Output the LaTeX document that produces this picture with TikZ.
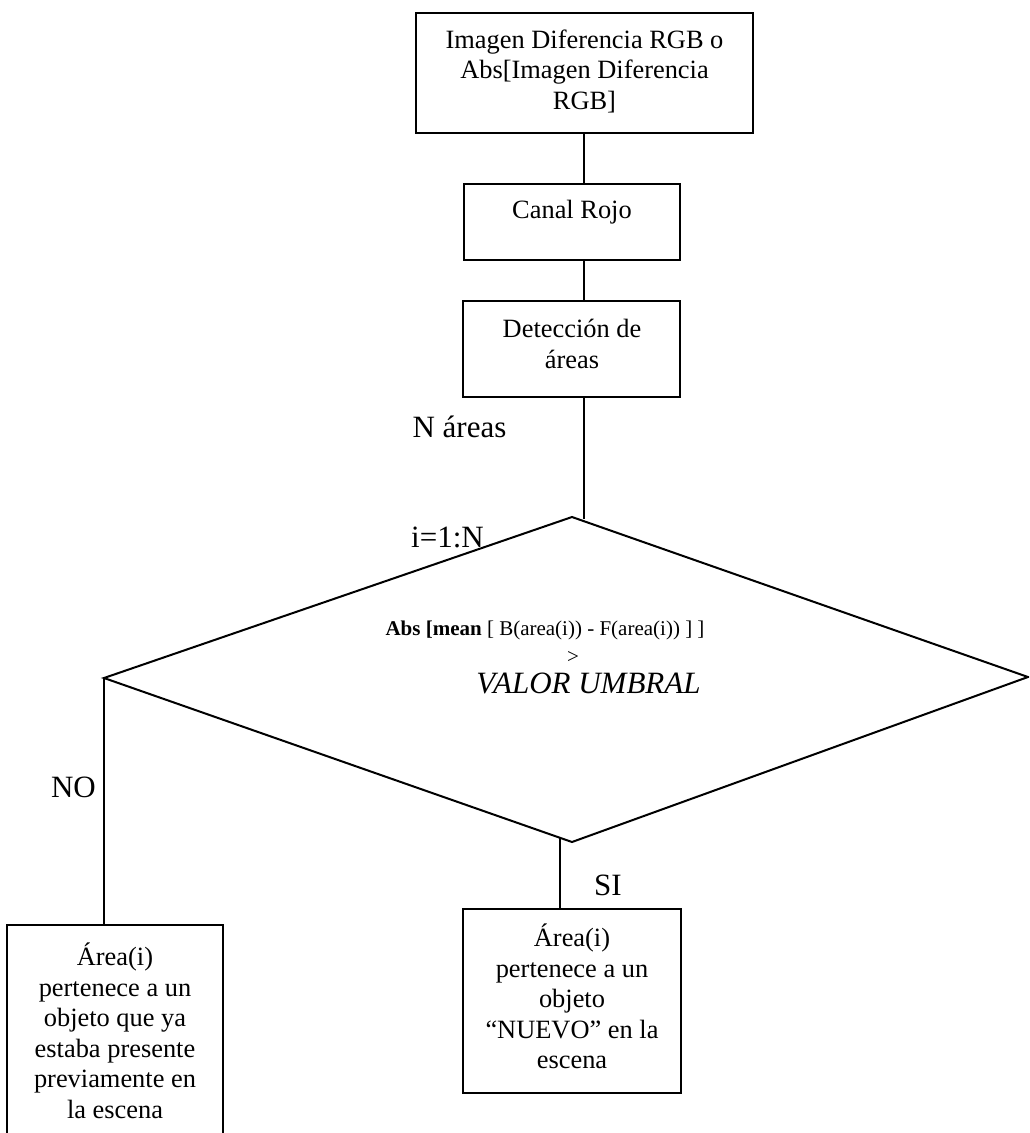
\documentclass[tikz,border=0pt]{standalone}
\usepackage{fontspec}
\setmainfont{Liberation Serif}
\begin{document}
\begin{tikzpicture}[x=1pt,y=-1pt,
  boxshape/.style={draw, line width=2pt, inner sep=0pt},
  boxtext/.style={align=center, font=\fontsize{26.4}{30.5}\selectfont, inner sep=0pt},
  lbl/.style={font=\fontsize{31}{36}\selectfont, inner sep=0pt},
  conn/.style={line width=2pt}]
\useasboundingbox (0,0) rectangle (1029,1133);
\clip (0,0) rectangle (1029,1133);
% boxes
\node[boxshape, minimum width=337pt, minimum height=120pt] (topbox) at (584.5,73) {};
\node[boxtext] (toptext) at (584.5,71) {Imagen Diferencia RGB o\\Abs[Imagen Diferencia\\RGB]};
\node[boxshape, minimum width=216pt, minimum height=76pt] (canal) at (572,222) {};
\node[boxtext] (canaltext) at (572,212) {Canal Rojo};
\node[boxshape, minimum width=217pt, minimum height=96pt] (det) at (571.5,349) {};
\node[boxtext] (dettext) at (572,344) {Detección de\\áreas};
\node[boxshape, minimum width=216pt, minimum height=240pt] (nobox) at (115,1045) {};
\node[boxtext] (notext) at (115,1031) {Área(i)\\pertenece a un\\objeto que ya\\estaba presente\\previamente en\\la escena};
\node[boxshape, minimum width=218pt, minimum height=184pt] (sibox) at (572,1001) {};
\node[boxtext] (sitext) at (572,996.5) {Área(i)\\pertenece a un\\objeto\\“NUEVO” en la\\escena};
% diamond
\coordinate (dN) at (572,517);
\coordinate (dE) at (1028,677);
\coordinate (dS) at (572,842);
\coordinate (dW) at (104,678);
\draw[conn] (dN) -- (dE) -- (dS) -- (dW) -- cycle;
\node[inner sep=0pt, font=\fontsize{21}{24}\selectfont] (cond) at (545,630) {\textbf{Abs [mean} [ B(area(i)) - F(area(i)) ] ]};
\node[inner sep=0pt, font=\fontsize{21}{24}\selectfont] (gt) at (573,657) {>};
\node[lbl, font=\fontsize{31}{36}\selectfont\itshape] (umbral) at (588.5,683) {VALOR UMBRAL};
% labels
\node[lbl] (nareas) at (459.5,427) {N áreas};
\node[lbl] (iter) at (447.5,537) {i=1:N};
\node[lbl] (nolbl) at (73.5,787) {NO};
\node[lbl] (silbl) at (608,885) {SI};
% connectors
\coordinate (djoin) at (584,519);
\coordinate (sjoin) at (560,838);
\draw[conn] (topbox.south -| djoin) -- (canal.north -| djoin);
\draw[conn] (canal.south -| djoin) -- (det.north -| djoin);
\draw[conn] (det.south -| djoin) -- (djoin);
\draw[conn] (dW) -- (dW |- nobox.north);
\draw[conn] (sjoin) -- (sjoin |- sibox.north);
\end{tikzpicture}
\end{document}
